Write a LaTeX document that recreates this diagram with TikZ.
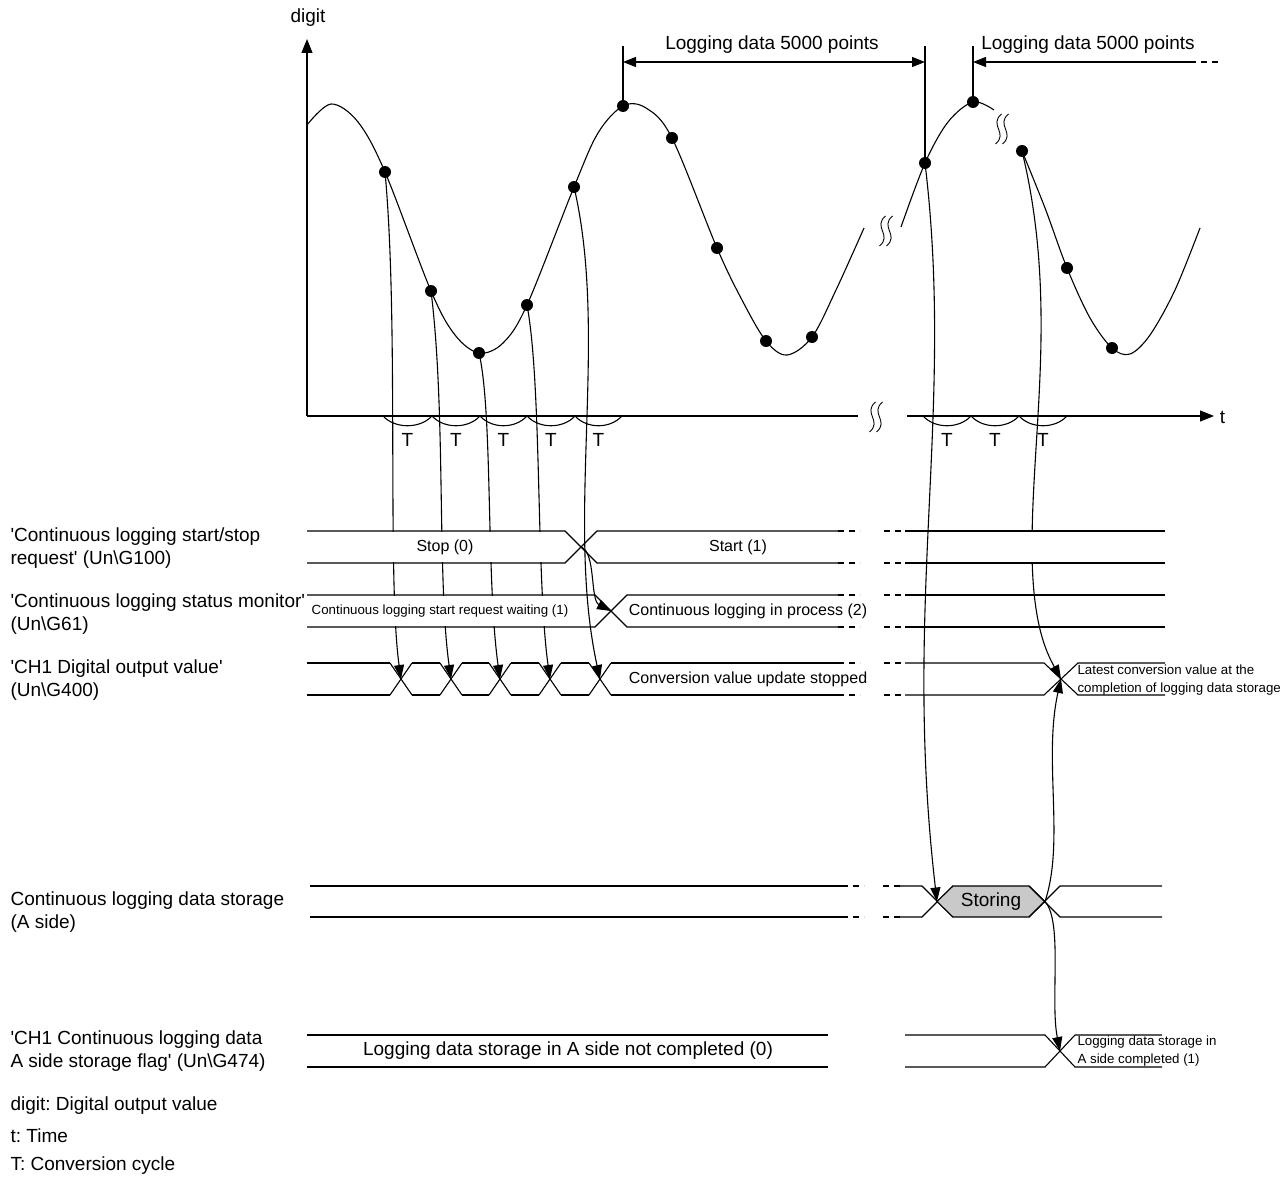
\documentclass[tikz,border=0pt]{standalone}
\usepackage{fontspec}
\setmainfont{Liberation Sans}
\usetikzlibrary{arrows.meta, calc}
\newcommand{\sqt}{\textquotesingle}
\frenchspacing

\begin{document}
\begin{tikzpicture}[
    x=1pt, y=-1pt, line width=1.1pt,
    font=\fontsize{19}{23}\selectfont,
    dot/.style={circle, fill=black, inner sep=0pt, minimum size=12pt},
    conn/.style={-{Triangle[length=14pt, width=10pt]}},
    dimtip/.style={-{Triangle[length=13pt, width=10pt]}},
    gap/.style={dash pattern=on 6pt off 5pt},
    rowtxt/.style={font=\fontsize{16}{19}\selectfont},
    smalltxt/.style={font=\fontsize{13.3}{17.5}\selectfont},
    lbl/.style={anchor=west, align=left, inner sep=0pt},
    note/.style={smalltxt, anchor=west, align=left, inner sep=0pt},
    brkmark/.pic={
        \foreach \o in {-3.5,3.5}
            \draw[line width=0.9pt] (\o+3,-15) .. controls (\o-10,-4) and (\o+10,4) .. (\o-3,15);
    }
]
\useasboundingbox (0,0) rectangle (1288,1177);

% Axes
\draw[-{Triangle[length=14pt, width=11pt]}] (307,416) -- (307,39);
\node (digit) at (308,18) {digit};
\draw (307,416) -- (858,416);
\pic at (876,417) {brkmark};
\draw[-{Triangle[length=14pt, width=11pt]}] (907,416) -- (1214,416);
\node[anchor=west] (taxis) at (1216,417) {t};

% Conversion cycles
\foreach \a/\b [count=\i] in {383/432, 432/480, 480/527, 527/575, 575/622, 923/971, 971/1019, 1019/1067}
    \draw (\a,416) .. controls (\a+12,429) and (\b-12,429) .. (\b,416)
        node[pos=0.5, yshift=-14pt] (T\i) {T};

% Digital output value
\draw plot[smooth, tension=0.55] coordinates {(307,125) (331,104) (358,122) (385,172) (431,291) (455,335)
    (479,353) (503,343) (527,305) (574,187) (598,133) (623,106) (646,108) (672,138) (717,248) (742,300)
    (766,341) (787,355) (812,337) (836,290) (864,228)};
\pic at (886,231) {brkmark};
\draw plot[smooth, tension=0.55] coordinates {(901,227) (925,163) (948,122) (973,102) (994,110)};
\pic at (1002,129) {brkmark};
\draw plot[smooth, tension=0.55] coordinates {(1022,151) (1045,208) (1067,268) (1090,318) (1112,348)
    (1130,354) (1150,335) (1175,290) (1200,228)};

\foreach \px/\py [count=\i] in {385/172, 431/291, 479/353, 527/305, 574/187, 623/106, 672/138, 717/248, 766/341, 812/337}
    \node[dot] (p\i) at (\px,\py) {};
\node[dot] (q1) at (925,163) {};
\node[dot] (q2) at (973,102) {};
\node[dot] (r1) at (1022,151) {};
\node[dot] (r2) at (1067,268) {};
\node[dot] (r3) at (1112,348) {};

% Logging data 5000 points
\draw (p6.center) -- ++(0,-60);
\draw (q1.center) -- ++(0,-117);
\draw (q2.center) -- ++(0,-56);
\draw[{Triangle[length=13pt, width=10pt]}-{Triangle[length=13pt, width=10pt]}] (623,62) -- (925,62);
\node (dimA) at (772,45) {Logging data 5000 points};
\draw[dimtip] (1190,62) -- (973,62);
\draw[gap] (1190,62) -- (1218,62);
\node (dimB) at (1088,45) {Logging data 5000 points};

% Crossing points
\foreach \c [count=\i] in {401,451,500,550,600}
    \coordinate (x\i) at (\c,679);
\coordinate (s1x) at (581,547);
\coordinate (s2x) at (611,611);
\coordinate (r3x) at (1061,679);
\coordinate (stL) at (937,901.5);
\coordinate (stR) at (1045,901.5);
\coordinate (r5x) at (1060,1051);

% Arrows that run behind the rows
\foreach \i/\dx/\dy in {1/14/150, 2/15/120, 3/14/60, 4/15/80}
    \draw[conn] (p\i.center) .. controls +(\dx,\dy) and +(-14,-100) .. (x\i);
\draw[conn] (r1.center) .. controls (1058,300) and (1032,430) .. (1032,547)
    .. controls (1032,620) and (1045,650) .. (r3x);

\fill[white] (307,532) rectangle (567,562);
\fill[white] (307,596) rectangle (577,626);
\fill[white] (905,532) rectangle (1165,562);

% 'Continuous logging start/stop request'
\draw (307,531) -- (565,531) -- (597,563) -- (838,563);
\draw (307,563) -- (565,563) -- (597,531) -- (838,531);
\draw[gap] (838,531) -- (860,531) (838,563) -- (860,563) (884,531) -- (905,531) (884,563) -- (905,563);
\draw (905,531) -- (1165,531) (905,563) -- (1165,563);
\node[rowtxt] (stop) at (445,547) {Stop (0)};
\node[rowtxt] (start) at (738,547) {Start (1)};

% 'Continuous logging status monitor'
\draw (307,595) -- (595,595) -- (627,627) -- (838,627);
\draw (307,627) -- (595,627) -- (627,595) -- (838,595);
\draw[gap] (838,595) -- (860,595) (838,627) -- (860,627) (884,595) -- (905,595) (884,627) -- (905,627);
\draw (905,595) -- (1165,595) (905,627) -- (1165,627);
\node[smalltxt] (waiting) at (440,611) {Continuous logging start request waiting (1)};
\node[rowtxt] (inproc) at (748,611) {Continuous logging in process (2)};

% 'CH1 Digital output value'
\draw (307,663) -- (390,663) (307,695) -- (390,695);
\foreach \c in {401,451,500,550,600}
    \draw (\c-11,663) -- (\c+11,695) (\c-11,695) -- (\c+11,663);
\foreach \a/\b in {412/440, 462/489, 511/539, 561/589}
    \draw (\a,663) -- (\b,663) (\a,695) -- (\b,695);
\draw (611,663) -- (838,663) (611,695) -- (838,695);
\draw[gap] (838,663) -- (860,663) (838,695) -- (860,695) (884,663) -- (905,663) (884,695) -- (905,695);
\draw (905,663) -- (1044,663) -- (1078,695) -- (1165,695);
\draw (905,695) -- (1044,695) -- (1078,663) -- (1165,663);
\node[rowtxt] (frozen) at (748,679) {Conversion value update stopped};
\node[note] (latest) at (1077,680) {Latest conversion value at the\\completion of logging data storage};

% Continuous logging data storage (A side)
\draw (310,886) -- (842,886) (310,917) -- (842,917);
\draw[gap] (842,886) -- (864,886) (842,917) -- (864,917) (883,886) -- (900,886) (883,917) -- (900,917);
\draw (900,886) -- (922,886) -- (953,917) (900,917) -- (922,917) -- (953,886);
\filldraw[fill=gray!42] (stL) -- (953,886) -- (1029,886) -- (stR) -- (1029,917) -- (953,917) -- cycle;
\draw (1029,886) -- (1060,917) -- (1162,917) (1029,917) -- (1060,886) -- (1162,886);
\node (storing) at (991,901.5) {Storing};

% 'CH1 Continuous logging data A side storage flag'
\draw (307,1035) -- (828,1035) (307,1067) -- (828,1067);
\node (notdone) at (568,1051) {Logging data storage in A side not completed (0)};
\draw (905,1035) -- (1045,1035) -- (1075,1067) -- (1162,1067);
\draw (905,1067) -- (1045,1067) -- (1075,1035) -- (1162,1035);
\node[note] (done) at (1077,1051) {Logging data storage in\\A side completed (1)};

% Arrows in front of the rows
\draw[conn] (p5.center) .. controls +(35,150) and +(-35,-160) .. (x5);
\draw[conn] (s1x) .. controls +(15,5) and +(-21,-11) .. (s2x);
\draw[conn] (q1.center) .. controls +(30,250) and +(-35,-300) .. (stL);
\draw[conn] (stR) .. controls +(20,-60) and +(-18,80) .. (r3x);
\draw[conn] (stR) .. controls +(18,20) and +(-10,-50) .. (r5x);

% Signal names
\node[lbl] (lab1) at (10,548.5) {\sqt Continuous logging start/stop\\request\sqt\ (Un\textbackslash G100)};
\node[lbl] (lab2) at (10,614.5) {\sqt Continuous logging status monitor\sqt\\(Un\textbackslash G61)};
\node[lbl] (lab3) at (10,680.5) {\sqt CH1 Digital output value\sqt\\(Un\textbackslash G400)};
\node[lbl] (lab4) at (10,912.5) {Continuous logging data storage\\(A side)};
\node[lbl] (lab5) at (10,1051) {\sqt CH1 Continuous logging data\\A side storage flag\sqt\ (Un\textbackslash G474)};

% Legend
\node[lbl] (key1) at (10,1106) {digit: Digital output value};
\node[lbl] (key2) at (10,1136) {t: Time};
\node[lbl] (key3) at (10,1166) {T: Conversion cycle};

\end{tikzpicture}
\end{document}
